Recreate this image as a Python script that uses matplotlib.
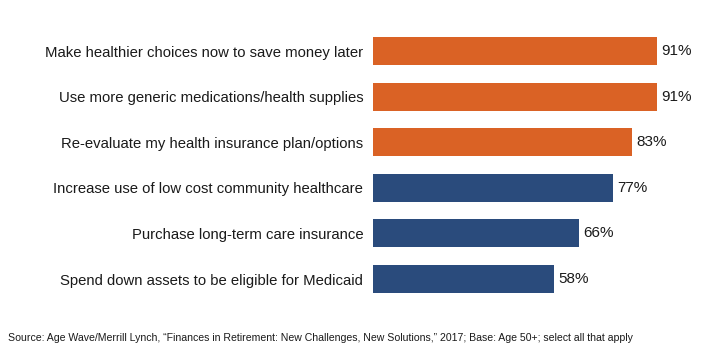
import matplotlib.pyplot as plt

plt.rcParams['font.family'] = ['Liberation Sans', 'DejaVu Sans']

# Survey answers, top to bottom
actions = [
    "Make healthier choices now to save money later",
    "Use more generic medications/health supplies",
    "Re-evaluate my health insurance plan/options",
    "Increase use of low cost community healthcare",
    "Purchase long-term care insurance",
    "Spend down assets to be eligible for Medicaid",
]
percents = [91, 91, 83, 77, 66, 58]
groups = ["top", "top", "top", "other", "other", "other"]

group_colors = {"top": "#DA6225", "other": "#2A4B7C"}
colors = [group_colors[g] for g in groups]

fig = plt.figure(figsize=(7.2, 3.5), dpi=100)
ax = fig.add_axes([373 / 720, 1 - 301.8 / 350, 312 / 720, 273.6 / 350])

ypos = list(range(len(actions)))
bars = ax.barh(ypos, percents, height=0.61, color=colors)

for bar, val in zip(bars, percents):
    ax.annotate(f"{val}%", (bar.get_width(), bar.get_y() + bar.get_height() / 2),
                xytext=(3, 0), textcoords="offset points",
                ha="left", va="center", fontsize=11, color="#1a1a1a")

ax.set_xlim(0, 100)
ax.set_ylim(len(actions) - 0.5, -0.5)
ax.set_yticks(ypos)
ax.set_yticklabels(actions, fontsize=10.7, color="#1a1a1a")
ax.tick_params(axis="y", length=0, pad=7)
ax.set_xticks([])
for side in ax.spines.values():
    side.set_visible(False)

fig.text(8 / 720, 1 - 338 / 350,
         "Source: Age Wave/Merrill Lynch, \u201cFinances in Retirement: New Challenges, New Solutions,\u201d 2017; "
         "Base: Age 50+; select all that apply",
         fontsize=7.55, ha="left", va="center", color="#1a1a1a")

plt.savefig("out.png", dpi=100)
